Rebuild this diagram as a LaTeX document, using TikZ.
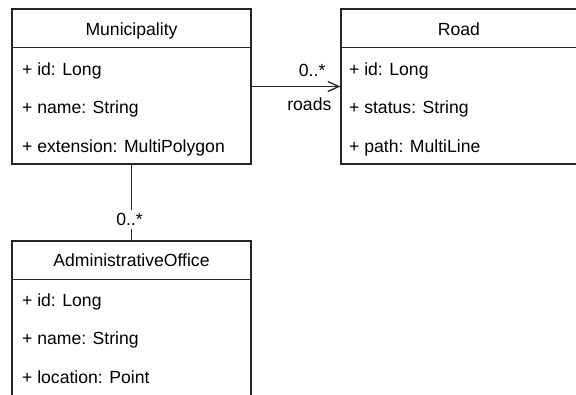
\documentclass[tikz,border=0pt]{standalone}
\usepackage{fontspec}
\setmainfont{Liberation Sans}
\usetikzlibrary{arrows.meta}
\begin{document}
\begin{tikzpicture}[x=1pt,y=-1pt,
  line width=1.3pt,
  umlbox/.style={draw=black!85, rectangle, inner sep=0pt},
  txt/.style={inner sep=0pt, font=\fontsize{17.6}{20}\selectfont, text=black},
  lbl/.style={inner sep=0pt, font=\fontsize{17.6}{20}\selectfont, text=black},
  assoc/.style={draw=black!85, line width=1.3pt}
]
\useasboundingbox (0,0) rectangle (576,394);
\fill[white] (0,0) rectangle (576,394);
% boxes
\node[umlbox, minimum width=239pt, minimum height=155pt] (mun) at (131.5,86.5) {};
\node[umlbox, minimum width=239pt, minimum height=155pt] (road) at (460.5,86.5) {};
\node[umlbox, minimum width=239pt, minimum height=165pt] (ao) at (131.5,323.5) {};
% header separators
\coordinate (munh) at (12,47.7);
\draw[draw=black!85] (munh) -- (munh -| mun.east);
\coordinate (roadh) at (341,47.7);
\draw[draw=black!85] (roadh) -- (roadh -| road.east);
\coordinate (aoh) at (12,279.7);
\draw[draw=black!85] (aoh) -- (aoh -| ao.east);
% titles
\node[txt, anchor=base] (munt) at (131.5,35.5) {Municipality};
\node[txt, anchor=base] (roadt) at (459,35.5) {Road};
\node[txt, anchor=base] (aot) at (131.5,266) {AdministrativeOffice};
% attributes
\node[txt, anchor=base west] (m1) at (21.5,75) {+ id: Long};
\node[txt, anchor=base west] (m2) at (21.5,113) {+ name: String};
\node[txt, anchor=base west] (m3) at (21.5,152) {+ extension: MultiPolygon};
\node[txt, anchor=base west] (r1) at (348.5,75) {+ id: Long};
\node[txt, anchor=base west] (r2) at (348.5,113) {+ status: String};
\node[txt, anchor=base west] (r3) at (348.5,152) {+ path: MultiLine};
\node[txt, anchor=base west] (a1) at (21.5,306) {+ id: Long};
\node[txt, anchor=base west] (a2) at (21.5,344.5) {+ name: String};
\node[txt, anchor=base west] (a3) at (21.5,383) {+ location: Point};
% associations
\draw[assoc, -{Straight Barb[length=11pt,width=10pt,line width=1.3pt]}] (mun.east) -- (road.west);
\node[lbl, anchor=base east] (l1) at (326,76) {0..*};
\node[lbl, anchor=base east] (l2) at (332,110) {roads};
\draw[assoc] (mun.south) -- (ao.north);
\node[lbl, anchor=base, fill=white, inner xsep=1pt, inner ysep=3pt] (l3) at (129.5,225.5) {0..*};
\end{tikzpicture}
\end{document}
